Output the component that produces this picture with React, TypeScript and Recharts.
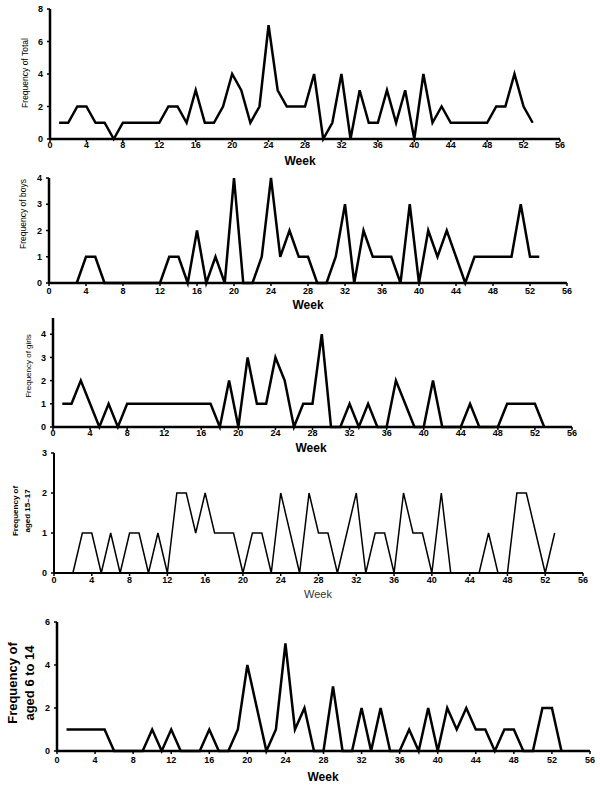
import { Line, LineChart, XAxis, YAxis } from "recharts";

// weekly case counts
const weeks = [
  1, 2, 3, 4, 5, 6, 7, 8, 9, 10, 11, 12, 13, 14, 15, 16, 17, 18, 19, 20, 21, 22, 23, 24, 25, 26, 27,
  28, 29, 30, 31, 32, 33, 34, 35, 36, 37, 38, 39, 40, 41, 42, 43, 44, 45, 46, 47, 48, 49, 50, 51, 52, 53,
];
const total = [
  1, 1, 2, 2, 1, 1, 0, 1, 1, 1, 1, 1, 2, 2, 1, 3, 1, 1, 2, 4, 3, 1, 2, 7, 3, 2, 2,
  2, 4, 0, 1, 4, 0, 3, 1, 1, 3, 1, 3, 0, 4, 1, 2, 1, 1, 1, 1, 1, 2, 2, 4, 2, 1,
];
const boys = [
  null, null, 0, 1, 1, 0, 0, 0, 0, 0, 0, 0, 1, 1, 0, 2, 0, 1, 0, 4, 0, 0, 1, 4, 1, 2, 1,
  1, 0, 0, 1, 3, 0, 2, 1, 1, 1, 0, 3, 0, 2, 1, 2, 1, 0, 1, 1, 1, 1, 1, 3, 1, 1,
];
const girls = [
  1, 1, 2, 1, 0, 1, 0, 1, 1, 1, 1, 1, 1, 1, 1, 1, 1, 0, 2, 0, 3, 1, 1, 3, 2, 0, 1,
  1, 4, 0, 0, 1, 0, 1, 0, 0, 2, 1, 0, 0, 2, 0, 0, 0, 1, 0, 0, 0, 1, 1, 1, 1, 0,
];
const aged15to17 = [
  null, 0, 1, 1, 0, 1, 0, 1, 1, 0, 1, 0, 2, 2, 1, 2, 1, 1, 1, 0, 1, 1, 0, 2, 1, 0, 2,
  1, 1, 0, 1, 2, 0, 1, 1, 0, 2, 1, 1, 0, 2, 0, 0, 0, 0, 1, 0, 0, 2, 2, 1, 0, 1,
];
const aged6to14 = [
  1, 1, 1, 1, 1, 0, 0, 0, 0, 1, 0, 1, 0, 0, 0, 1, 0, 0, 1, 4, 2, 0, 1, 5, 1, 2, 0,
  0, 3, 0, 0, 2, 0, 2, 0, 0, 1, 0, 2, 0, 2, 1, 2, 1, 1, 0, 1, 1, 0, 0, 2, 2, 0,
];
const weekTicks = [0, 4, 8, 12, 16, 20, 24, 28, 32, 36, 40, 44, 48, 52, 56];

const rows = (vals: (number | null)[]) => weeks.map((w, i) => ({ week: w, v: vals[i] }));

const FONT = "'Liberation Sans', Arial, sans-serif";
const AXIS_W = 30;
const X_H = 22;
const PAD = 6;

type Plot = { left: number; right: number; top: number; bottom: number };

function Panel({
  values,
  plot,
  yMax,
  yTicks,
  lineW,
  axisW,
  xTickMargin,
}: {
  values: (number | null)[];
  plot: Plot;
  yMax: number;
  yTicks: number[];
  lineW: number;
  axisW: number;
  xTickMargin: number;
}) {
  const height = plot.bottom - plot.top + PAD + X_H;
  const tick = { fontSize: 9, fontWeight: "bold", fill: "#000", fontFamily: FONT };
  return (
    <div style={{ position: "absolute", left: 0, top: plot.top - PAD, width: 600, height }}>
      <LineChart
        width={600}
        height={height}
        data={rows(values)}
        margin={{ top: PAD, right: 600 - plot.right, bottom: 0, left: plot.left - AXIS_W }}
      >
        <XAxis
          dataKey="week"
          type="number"
          domain={[0, 56]}
          ticks={weekTicks}
          interval={0}
          height={X_H}
          axisLine={{ stroke: "#000", strokeWidth: axisW }}
          tickLine={{ stroke: "#000", strokeWidth: 1.5 }}
          tickSize={3}
          tickMargin={xTickMargin}
          tick={tick}
        />
        <YAxis
          type="number"
          domain={[0, yMax]}
          ticks={yTicks}
          interval={0}
          width={AXIS_W}
          axisLine={{ stroke: "#000", strokeWidth: axisW }}
          tickLine={{ stroke: "#000", strokeWidth: 1.5 }}
          tickSize={3}
          tickMargin={4}
          tick={tick}
        />
        <Line
          dataKey="v"
          type="linear"
          stroke="#000"
          strokeWidth={lineW}
          dot={false}
          activeDot={false}
          connectNulls={false}
          isAnimationActive={false}
        />
      </LineChart>
    </div>
  );
}

function VLabel({ x, y, lines, size, bold, gap }: { x: number; y: number; lines: string[]; size: number; bold?: boolean; gap?: number }) {
  return (
    <>
      {lines.map((t, i) => (
        <text
          key={t}
          transform={`translate(${x + i * (gap || 0)},${y}) rotate(-90)`}
          textAnchor="middle"
          dominantBaseline="central"
          fontSize={size}
          fontWeight={bold ? "bold" : "normal"}
          fontFamily={FONT}
          fill="#000"
        >
          {t}
        </text>
      ))}
    </>
  );
}

function Week({ x, y, size = 12, bold = true }: { x: number; y: number; size?: number; bold?: boolean }) {
  return (
    <text x={x} y={y} textAnchor="middle" dominantBaseline="central" fontSize={size} fontWeight={bold ? "bold" : "normal"} fontFamily={FONT} fill={bold ? "#000" : "#333"}>
      Week
    </text>
  );
}

export default function App() {
  return (
    <div style={{ position: "absolute", left: 0, top: 0, width: 600, height: 785, background: "#fff" }}>
      <Panel values={total} plot={{ left: 50, right: 560, top: 9, bottom: 139 }} yMax={8} yTicks={[0, 2, 4, 6, 8]} lineW={2.5} axisW={2.5} xTickMargin={0} />
      <Panel values={boys} plot={{ left: 49, right: 567, top: 178, bottom: 283 }} yMax={4} yTicks={[0, 1, 2, 3, 4]} lineW={2.5} axisW={2.5} xTickMargin={2} />
      <Panel values={girls} plot={{ left: 53, right: 572, top: 318, bottom: 427 }} yMax={4.7} yTicks={[0, 1, 2, 3, 4]} lineW={2.5} axisW={2.5} xTickMargin={0} />
      <Panel values={aged15to17} plot={{ left: 54, right: 583, top: 453, bottom: 573 }} yMax={3} yTicks={[0, 1, 2, 3]} lineW={1.5} axisW={2} xTickMargin={1} />
      <Panel values={aged6to14} plot={{ left: 57, right: 590, top: 622, bottom: 751 }} yMax={6} yTicks={[0, 2, 4, 6]} lineW={2.5} axisW={2.5} xTickMargin={3} />
      <svg width={600} height={785} style={{ position: "absolute", left: 0, top: 0, pointerEvents: "none" }}>
        <VLabel x={25} y={73} lines={["Frequency of Total"]} size={8.5} />
        <VLabel x={23} y={214} lines={["Frequency of boys"]} size={8.5} />
        <VLabel x={28} y={366} lines={["Frequency of girls"]} size={8} />
        <VLabel x={15} y={511} lines={["Frequency of", "aged 15–17"]} size={8} bold gap={12} />
        <VLabel x={12} y={683} lines={["Frequency of", "aged 6 to 14"]} size={13} bold gap={17} />
        <Week x={300} y={161} />
        <Week x={308} y={305} />
        <Week x={311} y={448} />
        <Week x={318} y={594} size={11} bold={false} />
        <Week x={323} y={777} />
      </svg>
    </div>
  );
}
